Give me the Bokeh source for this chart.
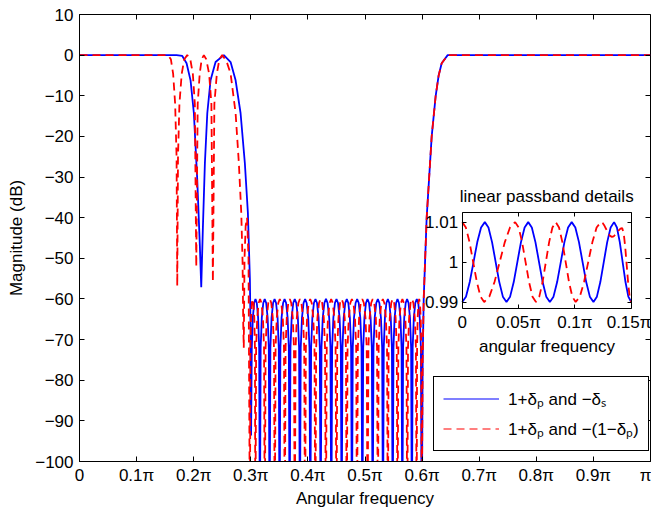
from bokeh.plotting import figure
from bokeh.models import (Range1d, LinearAxis, FixedTicker, CustomJSTickFormatter,
                          Legend, LegendItem, Label)
from bokeh.embed import file_html
from bokeh.resources import INLINE

# ---------------- data: x in units of pi, magnitude in dB ----------------
BLUE_EDGE_X = [0.0, 0.10, 0.170, 0.180, 0.1875, 0.1945, 0.2003, 0.2062, 0.2108, 0.2132,
               0.2160, 0.2196, 0.2238, 0.2295, 0.2383, 0.2528, 0.2646, 0.2734, 0.2821,
               0.2896, 0.2949, 0.2984, 0.2996]
BLUE_EDGE_DB = [0, 0, 0, -0.2, -2.0, -6.2, -14.3, -30.6, -47.0, -57.1,
                -42.9, -26.6, -14.3, -6.2, -1.7, 0, -1.7, -6.2, -14.3,
                -26.6, -38.8, -55.1, -67.4]
BLUE_STOP_NULLS = [0.3005, 0.3159, 0.3329, 0.3504, 0.3680, 0.3860, 0.4042, 0.4223, 0.4410,
                   0.4591, 0.4771, 0.4954, 0.5134, 0.5315, 0.5485, 0.5654, 0.5821, 0.5993]
BLUE_STOP_NULL_DB = [-93.6] + [-120] * 17

RED_EDGE_X = [0.0, 0.10, 0.155, 0.160, 0.164, 0.1675, 0.1700, 0.1712, 0.1725, 0.1750, 0.1790,
              0.1835, 0.1887, 0.1940, 0.1985, 0.2020, 0.2045, 0.2070, 0.2105, 0.2140, 0.2178,
              0.2220, 0.2270, 0.2310, 0.2336, 0.2362, 0.2405, 0.2450, 0.2500, 0.2575, 0.2646,
              0.2734, 0.2791, 0.2833, 0.2856, 0.2868, 0.2877, 0.2890, 0.2910, 0.2935, 0.2960]
RED_EDGE_DB = [0, 0, 0, -1.0, -4.6, -12, -25, -56.8, -25, -12, -4.6,
               -1.0, 0, -1.0, -4.6, -12, -52.1, -12, -4.6, -1.0, 0,
               -1.0, -4.6, -12, -55.8, -12, -4.6, -1.0, 0, -1.5, -4.5,
               -14.3, -26.6, -38.8, -51, -66.6, -72, -50, -42, -40, -50]
RED_STOP_NULLS = [0.2985, 0.3080, 0.3245, 0.3420, 0.3595, 0.3770, 0.3950, 0.4130, 0.4315,
                  0.4500, 0.4680, 0.4860, 0.5045, 0.5225, 0.5400, 0.5570, 0.5740, 0.5905, 0.5993]
RED_STOP_NULL_DB = [-120] * 19

STOP_PEAK_DB = -60
# shape of one stopband lobe: position inside the lobe, dB below its peak
LOBE_FRAC = [0.08, 0.20, 0.35, 0.50, 0.65, 0.80, 0.92]
LOBE_DROP = [-12, -4.6, -1.0, 0, -1.0, -4.6, -12]

RISE_X = [0.6010, 0.6028, 0.6080, 0.6168, 0.6238, 0.6290, 0.6343, 0.6448, 0.70, 0.80, 0.90, 1.0]
RISE_DB = [-75, -60, -40, -20, -10, -5, -2, 0, 0, 0, 0, 0]

BLUE_IN_EXT_X = [0, 0.0201, 0.0393, 0.0586, 0.0778, 0.0972, 0.1165, 0.1348, 0.15]
BLUE_IN_EXT_Y = [0.99, 1.01, 0.99, 1.01, 0.99, 1.01, 0.99, 1.01, 0.99]
RED_IN_EXT_X = [0, 0.0195, 0.0470, 0.0655, 0.0830, 0.1007, 0.1230, 0.1329, 0.1420, 0.15]
RED_IN_EXT_Y = [1.01, 0.99, 1.01, 0.99, 1.01, 0.99, 1.01, 1.0063, 1.0085, 0.99]
HALF_FRAC = [1 / 6, 1 / 3, 1 / 2, 2 / 3, 5 / 6]
HALF_SHAPE = [0.067, 0.25, 0.5, 0.75, 0.933]

X_TICKS = [0, 0.1, 0.2, 0.3, 0.4, 0.5, 0.6, 0.7, 0.8, 0.9, 1.0]
Y_TICKS = [-100, -90, -80, -70, -60, -50, -40, -30, -20, -10, 0, 10]
IN_X_TICKS = [0, 0.05, 0.1, 0.15]
IN_Y_TICKS = [0.99, 1.0, 1.01]
IN_XLIM = (0.0, 0.15)
IN_YLIM = (0.98826, 1.01234)

LEGEND_LABELS = ["1+δₚ and −δₛ", "1+δₚ and −(1−δₚ)"]


def lobes(nulls, null_db, peak_db):
    xs, ys = [], []
    for i in range(len(nulls) - 1):
        a, b = nulls[i], nulls[i + 1]
        xs.append(a)
        ys.append(null_db[i])
        for f, d in zip(LOBE_FRAC, LOBE_DROP):
            xs.append(a + f * (b - a))
            ys.append(peak_db + d)
    xs.append(nulls[-1])
    ys.append(null_db[-1])
    return xs, ys


def waves(ext_x, ext_y):
    xs, ys = [], []
    for i in range(len(ext_x) - 1):
        xs.append(ext_x[i])
        ys.append(ext_y[i])
        for f, s in zip(HALF_FRAC, HALF_SHAPE):
            xs.append(ext_x[i] + f * (ext_x[i + 1] - ext_x[i]))
            ys.append(ext_y[i] + s * (ext_y[i + 1] - ext_y[i]))
    xs.append(ext_x[-1])
    ys.append(ext_y[-1])
    return xs, ys


bsx, bsy = lobes(BLUE_STOP_NULLS, BLUE_STOP_NULL_DB, STOP_PEAK_DB)
rsx, rsy = lobes(RED_STOP_NULLS, RED_STOP_NULL_DB, STOP_PEAK_DB)
blue_x = BLUE_EDGE_X + bsx + RISE_X
blue_y = BLUE_EDGE_DB + bsy + RISE_DB
red_x = RED_EDGE_X + rsx + RISE_X
red_y = RED_EDGE_DB + rsy + RISE_DB
bix, biy = waves(BLUE_IN_EXT_X, BLUE_IN_EXT_Y)
rix, riy = waves(RED_IN_EXT_X, RED_IN_EXT_Y)

FONT = "Liberation Sans"
FS = "17px"
BLUE = "#0000ff"
RED = "#ff0000"
LW = 1.8

p = figure(width=651, height=510, x_range=Range1d(0, 1), y_range=Range1d(-100, 10),
           output_backend="svg", toolbar_location=None,
           min_border_left=79, min_border_right=1, min_border_top=14, min_border_bottom=47)
p.grid.visible = False
p.outline_line_color = "black"
p.outline_line_width = 1
p.background_fill_color = "white"
p.border_fill_color = "white"

pi_fmt = CustomJSTickFormatter(code="""
if (Math.abs(tick) < 1e-9) return '0';
if (Math.abs(tick - 1) < 1e-9) return 'π';
return (Math.round(tick * 100) / 100).toString() + 'π';
""")
db_fmt = CustomJSTickFormatter(code="""
return tick < 0 ? '\u2212' + Math.abs(tick) : String(tick);
""")
blank_fmt = CustomJSTickFormatter(code="return '';")


def style_axis(ax, tick_len=5):
    ax.major_tick_in = tick_len
    ax.major_tick_out = 0
    ax.minor_tick_line_color = None
    ax.axis_line_color = "black"
    ax.major_tick_line_color = "black"
    ax.major_label_text_font = FONT
    ax.major_label_text_font_size = FS
    ax.major_label_text_color = "black"
    ax.axis_label_text_font = FONT
    ax.axis_label_text_font_size = FS
    ax.axis_label_text_font_style = "normal"
    ax.axis_label_text_color = "black"


xa = p.xaxis[0]
xa.ticker = FixedTicker(ticks=X_TICKS)
xa.formatter = pi_fmt
xa.axis_label = "Angular frequency"
xa.major_label_standoff = 4
xa.axis_label_standoff = 1
style_axis(xa)
ya = p.yaxis[0]
ya.ticker = FixedTicker(ticks=Y_TICKS)
ya.formatter = db_fmt
ya.axis_label = "Magnitude (dB)"
ya.major_label_standoff = 6
ya.axis_label_standoff = 6
style_axis(ya)

top = LinearAxis(ticker=FixedTicker(ticks=X_TICKS), formatter=blank_fmt, fixed_location=10)
style_axis(top)
p.add_layout(top, "above")
right = LinearAxis(ticker=FixedTicker(ticks=Y_TICKS), formatter=blank_fmt, fixed_location=1)
style_axis(right)
p.add_layout(right, "right")

# main curves
p.line(blue_x, blue_y, line_color=BLUE, line_width=LW)
p.line(red_x, red_y, line_color=RED, line_width=LW, line_dash="8 5")

# inset drawn with its own ranges
p.extra_x_ranges = {"ix": Range1d(-0.33967, 0.16713)}
p.extra_y_ranges = {"iy": Range1d(0.95007, 1.06198)}
p.quad(left=[IN_XLIM[0]], right=[IN_XLIM[1]], bottom=[IN_YLIM[0]], top=[IN_YLIM[1]],
       fill_color="white", line_color=None, x_range_name="ix", y_range_name="iy")
p.line(bix, biy, line_color=BLUE, line_width=LW, x_range_name="ix", y_range_name="iy")
p.line(rix, riy, line_color=RED, line_width=LW, line_dash="8 5",
       x_range_name="ix", y_range_name="iy")

ib = LinearAxis(x_range_name="ix", y_range_name="iy", fixed_location=IN_YLIM[0], bounds=IN_XLIM,
                ticker=FixedTicker(ticks=IN_X_TICKS), formatter=pi_fmt, axis_label="angular frequency")
style_axis(ib, 4)
ib.major_label_standoff = 4
ib.axis_label_standoff = 2
p.add_layout(ib, "below")
it = LinearAxis(x_range_name="ix", y_range_name="iy", fixed_location=IN_YLIM[1], bounds=IN_XLIM,
                ticker=FixedTicker(ticks=IN_X_TICKS), formatter=blank_fmt)
style_axis(it, 4)
p.add_layout(it, "above")
il = LinearAxis(x_range_name="ix", y_range_name="iy", fixed_location=IN_XLIM[0], bounds=IN_YLIM,
                ticker=FixedTicker(ticks=IN_Y_TICKS),
                formatter=CustomJSTickFormatter(code="return (Math.round(tick*100)/100).toString();"))
style_axis(il, 4)
il.major_label_standoff = 4
p.add_layout(il, "left")
ir = LinearAxis(x_range_name="ix", y_range_name="iy", fixed_location=IN_XLIM[1], bounds=IN_YLIM,
                ticker=FixedTicker(ticks=IN_Y_TICKS), formatter=blank_fmt)
style_axis(ir, 4)
p.add_layout(ir, "right")

p.add_layout(Label(x=(IN_XLIM[0] + IN_XLIM[1]) / 2, y=IN_YLIM[1], x_range_name="ix", y_range_name="iy",
                   text="linear passband details", text_align="center", text_baseline="bottom",
                   y_offset=7, text_font=FONT, text_font_size=FS, text_color="black"))

# legend with thin sample lines (one-point renderers draw nothing in the plot)
lb = p.line([0.5], [-500], line_color=BLUE, line_width=1.1)
lr = p.line([0.5], [-500], line_color=RED, line_width=1.1, line_dash="8 5")
leg = Legend(items=[LegendItem(label=LEGEND_LABELS[0], renderers=[lb]),
                    LegendItem(label=LEGEND_LABELS[1], renderers=[lr])],
             location=(354, 10), padding=9, spacing=5, glyph_width=56, glyph_height=25,
             label_height=25, label_standoff=9, margin=0,
             border_line_color="black", border_line_width=1, border_line_alpha=1,
             background_fill_color="white", background_fill_alpha=1,
             label_text_font=FONT, label_text_font_size=FS, label_text_color="black")
p.add_layout(leg)

open("out.html", "w").write(file_html(p, INLINE))
